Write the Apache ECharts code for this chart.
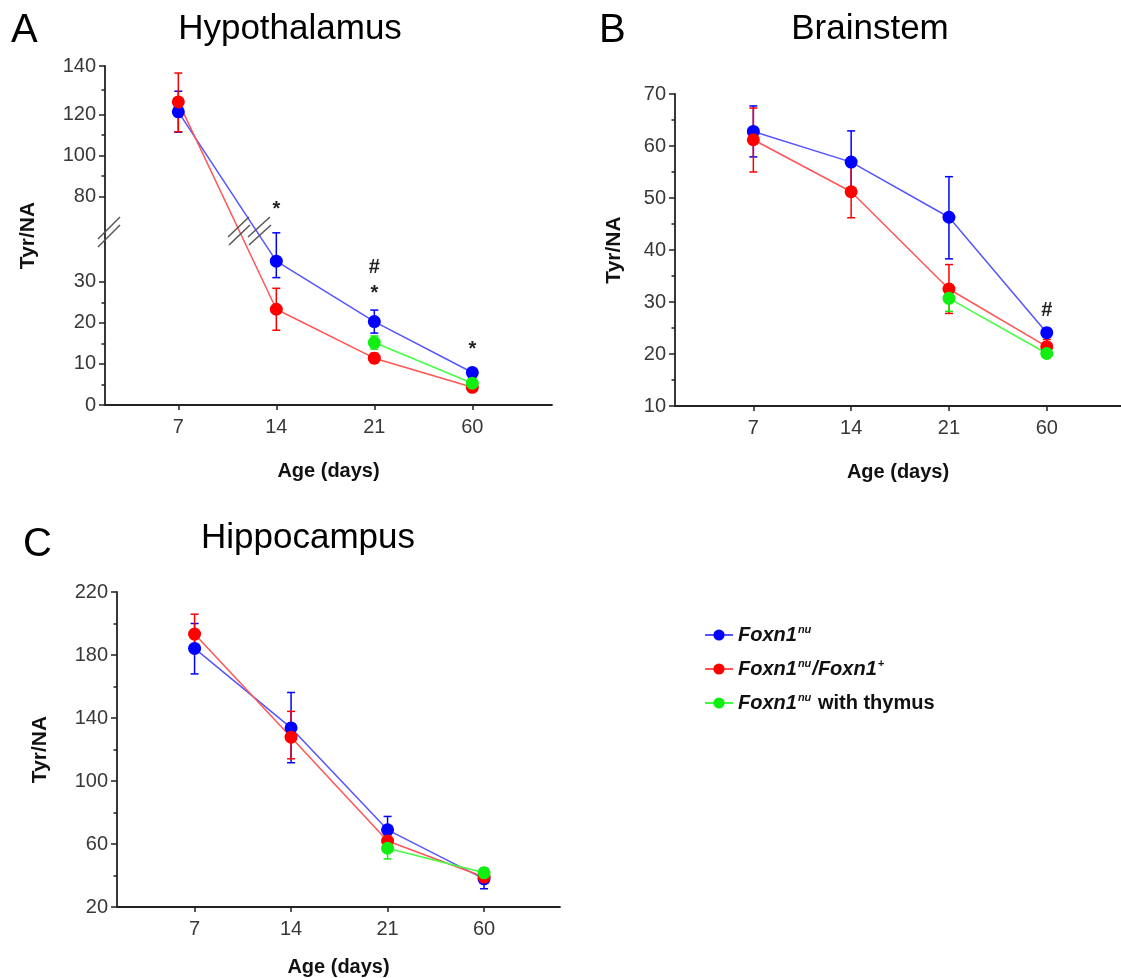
<!DOCTYPE html>
<html><head><meta charset="utf-8">
<script src="https://cdn.jsdelivr.net/npm/echarts@6/dist/echarts.min.js"></script>
<style>html,body{margin:0;padding:0;background:#fff}#c{width:1121px;height:978px}</style>
</head><body><div id="c"></div>
<script>
const FONT = '"Liberation Sans", Arial, Helvetica, sans-serif';

// ---- categories ----
const days = ['7', '14', '21', '60'];
const dayPos = [1, 2, 3, 4];

// ---- series names ----
const nameNu = 'Foxn1nu';
const nameHet = 'Foxn1nu/Foxn1+';
const nameThy = 'Foxn1nu with thymus';

// ---- A: Hypothalamus (mean, lower / upper error-bar ends) ----
const hypoBlue   = [121.1, 35.0, 20.3, 7.9];
const hypoBlueLo = [111.4, 31.0, 17.5, 6.9];
const hypoBlueHi = [129.6, 41.9, 23.1, 8.9];
const hypoRed    = [125.2, 23.3, 11.4, 4.3];
const hypoRedLo  = [111.6, 18.2, 10.2, 3.6];
const hypoRedHi  = [137.1, 28.4, 12.6, 5.0];
const hypoGreen   = [null, null, 15.2, 5.3];
const hypoGreenLo = [null, null, 13.6, 4.5];
const hypoGreenHi = [null, null, 16.8, 6.1];

// ---- B: Brainstem ----
const brainBlue   = [62.8, 56.9, 46.3, 24.1];
const brainBlueLo = [57.9, 50.9, 38.3, 23.3];
const brainBlueHi = [67.7, 62.9, 54.1, 24.9];
const brainRed    = [61.2, 51.2, 32.5, 21.4];
const brainRedLo  = [55.0, 46.2, 27.8, 20.0];
const brainRedHi  = [67.3, 56.5, 37.2, 22.8];
const brainGreen   = [null, null, 30.7, 20.1];
const brainGreenLo = [null, null, 28.2, 19.4];
const brainGreenHi = [null, null, 33.2, 20.8];

// ---- C: Hippocampus ----
const hippoBlue   = [184.2, 133.7, 69.0, 37.9];
const hippoBlueLo = [168.0, 111.6, 60.5, 31.6];
const hippoBlueHi = [200.0, 156.2, 77.5, 44.0];
const hippoRed    = [193.3, 127.8, 61.9, 39.0];
const hippoRedLo  = [181.5, 114.1, 58.0, 36.0];
const hippoRedHi  = [205.9, 144.2, 65.7, 42.0];
const hippoGreen   = [null, null, 57.3, 41.7];
const hippoGreenLo = [null, null, 50.5, 38.7];
const hippoGreenHi = [null, null, 61.3, 44.7];

// ---- tick labels ----
const hypoTicksLow = [0, 10, 20, 30];
const hypoTicksHigh = [80, 100, 120, 140];
const hypoMinor = [5, 15, 25, 90, 110, 130];
const brainTicks = [10, 20, 30, 40, 50, 60, 70];
const brainMinor = [15, 25, 35, 45, 55, 65];
const hippoTicks = [20, 60, 100, 140, 180, 220];
const hippoMinor = [40, 80, 120, 160, 200];

// ---- significance marks (anchored above Foxn1nu error bar) ----
const hypoMarks = [{pos: 2, text: '*', dy: -23}, {pos: 3, text: '*', dy: -17}, {pos: 3, text: '#', dy: -43}, {pos: 4, text: '*', dy: -19}];
const brainMarks = [{pos: 4, text: '#', dy: -18}];

// ---- broken-axis scale for panel A (lower part linear, upper part compressed) ----
const breakV = [60, 80, 100, 120, 140];
const breakD = [40.7, 50.7, 60.7, 70.7, 82.5];
function toD(v) {
  if (v == null) return null;
  if (v < 50) return v;
  let i = 0;
  while (i < breakV.length - 2 && v > breakV[i + 1]) i++;
  return breakD[i] + (v - breakV[i]) * (breakD[i + 1] - breakD[i]) / (breakV[i + 1] - breakV[i]);
}
function fromD(d) {
  if (d < breakD[0] - 0.01) return d;
  let i = 0;
  while (i < breakD.length - 2 && d > breakD[i + 1] + 1e-6) i++;
  return breakV[i] + (d - breakD[i]) * (breakV[i + 1] - breakV[i]) / (breakD[i + 1] - breakD[i]);
}
const ident = v => v;

const COL = {
  blue:  {marker: '#0000ff', line: '#5555ff'},
  red:   {marker: '#ff0000', line: '#ff5555'},
  green: {marker: '#11ee11', line: '#44ff44'}
};
const AXC = '#222';

function mkX(gi, min, max, nameGap) {
  return {
    type: 'value', gridIndex: gi, min: min, max: max,
    axisLine: {show: true, onZero: false, lineStyle: {color: AXC, width: 1.8}},
    axisTick: {show: true, customValues: dayPos, length: 5, lineStyle: {color: AXC, width: 1.5}},
    axisLabel: {customValues: dayPos, formatter: v => days[Math.round(v) - 1], fontSize: 20, color: '#383838', margin: 12, fontFamily: FONT},
    splitLine: {show: false},
    name: 'Age (days)', nameLocation: 'middle', nameGap: nameGap,
    nameTextStyle: {fontSize: 20, fontWeight: 'bold', color: '#111', fontFamily: FONT}
  };
}
function mkY(gi, min, max, ticks, fmt, nameGap) {
  return {
    type: 'value', gridIndex: gi, min: min, max: max, position: 'left',
    axisLine: {show: true, onZero: false, lineStyle: {color: AXC, width: 1.8}},
    axisTick: {show: true, customValues: ticks, length: 6, lineStyle: {color: AXC, width: 1.5}},
    axisLabel: {customValues: ticks, formatter: fmt, fontSize: 20, color: '#383838', margin: 9, fontFamily: FONT},
    splitLine: {show: false},
    name: 'Tyr/NA', nameLocation: 'middle', nameGap: nameGap,
    nameTextStyle: {fontSize: 21, fontWeight: 'bold', color: '#111', fontFamily: FONT}
  };
}
function mkYMinor(gi, min, max, ticks) {
  return {
    type: 'value', gridIndex: gi, min: min, max: max, position: 'left',
    axisLine: {show: false}, axisLabel: {show: false}, splitLine: {show: false},
    axisTick: {show: true, customValues: ticks, length: 3.5, lineStyle: {color: AXC, width: 1.5}}
  };
}

const series = [];
function errSeries(xi, yi, tf, lo, hi, color) {
  const data = [];
  dayPos.forEach((x, i) => { if (lo[i] != null) data.push([x, tf(lo[i]), tf(hi[i])]); });
  series.push({
    type: 'custom', name: 'err', xAxisIndex: xi, yAxisIndex: yi, z: 2,
    encode: {x: 0, y: [1, 2]}, data: data, silent: true,
    renderItem: function (params, api) {
      const x = api.value(0);
      const a = api.coord([x, api.value(1)]);
      const b = api.coord([x, api.value(2)]);
      const c = 4;
      const st = {stroke: color, lineWidth: 1.5};
      return {type: 'group', children: [
        {type: 'line', shape: {x1: a[0], y1: a[1], x2: b[0], y2: b[1]}, style: st},
        {type: 'line', shape: {x1: a[0] - c, y1: a[1], x2: a[0] + c, y2: a[1]}, style: st},
        {type: 'line', shape: {x1: b[0] - c, y1: b[1], x2: b[0] + c, y2: b[1]}, style: st}
      ]};
    }
  });
}
function lineSeries(xi, yi, tf, name, vals, col) {
  const data = [];
  dayPos.forEach((x, i) => { if (vals[i] != null) data.push([x, tf(vals[i])]); });
  series.push({
    type: 'line', name: name, xAxisIndex: xi, yAxisIndex: yi, z: 3,
    data: data, symbol: 'circle', symbolSize: 13,
    itemStyle: {color: col.marker},
    lineStyle: {color: col.line, width: 1.5}
  });
}
function marksSeries(xi, yi, tf, marks, anchorHi) {
  series.push({
    type: 'custom', name: 'marks', xAxisIndex: xi, yAxisIndex: yi, z: 4, silent: true,
    encode: {x: 0, y: 1},
    data: marks.map(m => [m.pos, tf(anchorHi[m.pos - 1])]),
    renderItem: function (params, api) {
      const m = marks[params.dataIndex];
      const p = api.coord([api.value(0), api.value(1)]);
      return {type: 'text', x: p[0], y: p[1] + m.dy,
        style: {text: m.text, align: 'center', verticalAlign: 'middle', fontSize: 20, fontWeight: 'bold', fontFamily: FONT, fill: '#222'}};
    }
  });
}
function panel(xi, yi, tf, d) {
  errSeries(xi, yi, tf, d.bLo, d.bHi, COL.blue.marker);
  errSeries(xi, yi, tf, d.rLo, d.rHi, COL.red.marker);
  errSeries(xi, yi, tf, d.gLo, d.gHi, COL.green.marker);
  lineSeries(xi, yi, tf, nameNu, d.b, COL.blue);
  lineSeries(xi, yi, tf, nameHet, d.r, COL.red);
  lineSeries(xi, yi, tf, nameThy, d.g, COL.green);
}
panel(0, 0, toD, {b: hypoBlue, bLo: hypoBlueLo, bHi: hypoBlueHi, r: hypoRed, rLo: hypoRedLo, rHi: hypoRedHi, g: hypoGreen, gLo: hypoGreenLo, gHi: hypoGreenHi});
panel(1, 2, ident, {b: brainBlue, bLo: brainBlueLo, bHi: brainBlueHi, r: brainRed, rLo: brainRedLo, rHi: brainRedHi, g: brainGreen, gLo: brainGreenLo, gHi: brainGreenHi});
panel(2, 4, ident, {b: hippoBlue, bLo: hippoBlueLo, bHi: hippoBlueHi, r: hippoRed, rLo: hippoRedLo, rHi: hippoRedHi, g: hippoGreen, gLo: hippoGreenLo, gHi: hippoGreenHi});
marksSeries(0, 0, toD, hypoMarks, hypoBlueHi);
marksSeries(1, 2, ident, brainMarks, brainBlueHi);

const hypoLabelD = hypoTicksLow.concat(hypoTicksHigh).map(toD);
const hypoMinorD = hypoMinor.map(toD);

const breakStyle = {stroke: '#555', lineWidth: 1.5};
function seg(x1, y1, x2, y2) { return {type: 'line', z: 10, shape: {x1, y1, x2, y2}, style: breakStyle}; }
function txt(x, y, text, size, align) {
  return {type: 'text', x: x, y: y, z: 10, style: {text: text, fontSize: size, fontFamily: FONT, fill: '#000', align: align || 'center', verticalAlign: 'middle'}};
}

const legendMap = {};
legendMap[nameNu] = '{i|Foxn1}{s|nu}';
legendMap[nameHet] = '{i|Foxn1}{s|nu}{i|/Foxn1}{s|+}';
legendMap[nameThy] = '{i|Foxn1}{s|nu}{b| with thymus}';

const option = {
  animation: false,
  backgroundColor: '#fff',
  textStyle: {fontFamily: FONT},
  grid: [
    {left: 105, top: 66, width: 447, height: 339},
    {left: 675, top: 94, width: 446, height: 312},
    {left: 117, top: 592, width: 443, height: 316}
  ],
  xAxis: [mkX(0, 0.252, 4.813, 56), mkX(1, 0.199, 4.759, 56), mkX(2, 0.196, 4.787, 50)],
  yAxis: [
    mkY(0, 0, breakD[breakD.length - 1], hypoLabelD, v => String(Math.round(fromD(v))), 66),
    mkYMinor(0, 0, breakD[breakD.length - 1], hypoMinorD),
    mkY(1, 10, 70, brainTicks, v => String(v), 50),
    mkYMinor(1, 10, 70, brainMinor),
    mkY(2, 20, 220, hippoTicks, v => String(v), 66),
    mkYMinor(2, 20, 220, hippoMinor)
  ],
  legend: {
    orient: 'vertical', left: 699, top: 619, itemWidth: 28, itemHeight: 14, itemGap: 12,
    data: [nameNu, nameHet, nameThy],
    formatter: n => legendMap[n],
    textStyle: {
      fontFamily: FONT, fontSize: 20, lineHeight: 22, color: '#111',
      rich: {
        i: {fontFamily: FONT, fontStyle: 'italic', fontWeight: 'bold', fontSize: 20, lineHeight: 22, color: '#111'},
        s: {fontFamily: FONT, fontStyle: 'italic', fontWeight: 'bold', fontSize: 11, lineHeight: 22, verticalAlign: 'top', padding: [0, 1, 0, 1], color: '#111'},
        b: {fontFamily: FONT, fontWeight: 'bold', fontSize: 20, lineHeight: 22, color: '#111'}
      }
    }
  },
  graphic: [
    txt(11, 31, 'A', 40, 'left'),
    txt(290, 29, 'Hypothalamus', 35),
    txt(599, 31, 'B', 40, 'left'),
    txt(870, 29, 'Brainstem', 35),
    txt(23, 545, 'C', 40, 'left'),
    txt(308, 538, 'Hippocampus', 35),
    seg(98, 239, 120, 217), seg(98, 247, 120, 225),
    seg(228, 237, 249, 217), seg(229, 245, 250, 225),
    seg(248, 237, 270, 217), seg(249, 245, 271, 225)
  ],
  series: series
};

const chart = echarts.init(document.getElementById('c'), null, {renderer: 'canvas'});
chart.setOption(option);
</script>
</body></html>
